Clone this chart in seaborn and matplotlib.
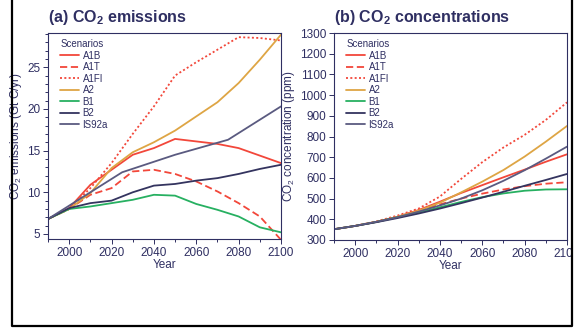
import matplotlib
matplotlib.use("Agg")
import matplotlib.pyplot as plt
from matplotlib.lines import Line2D
from matplotlib.patches import Rectangle
from matplotlib.ticker import MultipleLocator
import numpy as np
import pandas as pd
import seaborn as sns

# ---- data -------------------------------------------------------------
scenarios = ["A1B", "A1T", "A1FI", "A2", "B1", "B2", "IS92a"]
decades = [1990, 2000, 2010, 2020, 2030, 2040, 2050, 2060, 2070, 2080, 2090, 2100]

# CO2 emissions (Gt C/yr)
emis_A1B = [6.8, 8.1, 10.9, 12.7, 14.5, 15.3, 16.4, 16.1, 15.8, 15.3, 14.4, 13.5]
emis_A1T = [6.8, 8.0, 9.7, 10.5, 12.5, 12.7, 12.2, 11.3, 10.1, 8.7, 7.1, 4.3]
emis_A1FI = [6.8, 8.0, 10.5, 13.5, 17.0, 20.3, 24.0, 25.6, 27.1, 28.6, 28.5, 28.2]
emis_A2 = [6.8, 8.0, 9.9, 12.9, 14.8, 16.0, 17.4, 19.1, 20.8, 23.1, 25.9, 28.9]
emis_B1 = [6.8, 8.0, 8.3, 8.7, 9.1, 9.7, 9.6, 8.6, 7.9, 7.1, 5.8, 5.2]
emis_B2 = [6.8, 8.1, 8.7, 9.0, 10.0, 10.8, 11.0, 11.4, 11.7, 12.2, 12.8, 13.3]
is92a_years = [1990, 2025, 2050, 2075, 2100]
emis_IS92a = [6.8, 12.4, 14.5, 16.3, 20.3]

# CO2 concentrations (ppm)
conc_A1B = [352, 368, 388, 412, 445, 485, 527, 565, 603, 640, 678, 714]
conc_A1T = [352, 368, 388, 412, 443, 472, 500, 524, 544, 560, 572, 579]
conc_A1FI = [352, 368, 390, 418, 452, 510, 595, 676, 747, 808, 880, 965]
conc_A2 = [352, 368, 388, 412, 442, 480, 530, 582, 638, 703, 775, 851]
conc_B1 = [352, 368, 387, 410, 432, 458, 484, 507, 525, 538, 544, 545]
conc_B2 = [352, 368, 386, 406, 428, 452, 478, 505, 533, 562, 590, 619]
conc_IS92a = [352, 368, 388, 410, 437, 467, 500, 540, 586, 637, 693, 751]

emis_table = {
    "A1B": (decades, emis_A1B), "A1T": (decades, emis_A1T),
    "A1FI": (decades, emis_A1FI), "A2": (decades, emis_A2),
    "B1": (decades, emis_B1), "B2": (decades, emis_B2),
    "IS92a": (is92a_years, emis_IS92a),
}
conc_table = {
    "A1B": (decades, conc_A1B), "A1T": (decades, conc_A1T),
    "A1FI": (decades, conc_A1FI), "A2": (decades, conc_A2),
    "B1": (decades, conc_B1), "B2": (decades, conc_B2),
    "IS92a": (decades, conc_IS92a),
}


def long_form(table):
    rows = []
    for name in scenarios:
        yrs, vals = table[name]
        rows += [{"Year": y, "value": v, "Scenario": name} for y, v in zip(yrs, vals)]
    return pd.DataFrame(rows)


# ---- style ------------------------------------------------------------
sns.set_style("ticks")
plt.rcParams["font.family"] = ["Liberation Sans", "DejaVu Sans"]
plt.rcParams["mathtext.fontset"] = "custom"
plt.rcParams["mathtext.rm"] = "Liberation Sans"
plt.rcParams["mathtext.it"] = "Liberation Sans"
plt.rcParams["mathtext.bf"] = "Liberation Sans:bold"

navy = "#2f2f62"
palette = {
    "A1B": "#f2473a", "A1T": "#f2473a", "A1FI": "#f2473a",
    "A2": "#dea544", "B1": "#27b061", "B2": "#34345f", "IS92a": "#5a5a80",
}
dashes = {
    "A1B": "", "A1T": (4, 2), "A1FI": (1.1, 1.3), "A2": "",
    "B1": "", "B2": "", "IS92a": "",
}

fig = plt.figure(figsize=(5.83, 3.28), dpi=100)
fig.patch.set_facecolor("white")
ax1 = fig.add_axes([48 / 583, 1 - 239 / 328, 233 / 583, 206 / 328])
ax2 = fig.add_axes([334 / 583, 1 - 240 / 328, 233 / 583, 207 / 328])


def draw_panel(ax, table, ylim, ymajor, yminor, ylabel, title):
    sns.lineplot(data=long_form(table), x="Year", y="value", hue="Scenario",
                 style="Scenario", hue_order=scenarios, style_order=scenarios,
                 palette=palette, dashes=dashes, linewidth=1.3,
                 errorbar=None, ax=ax)
    ax.set_xlim(1990, 2100)
    ax.set_ylim(*ylim)
    ax.xaxis.set_major_locator(MultipleLocator(20))
    ax.xaxis.set_minor_locator(MultipleLocator(10))
    ax.yaxis.set_major_locator(MultipleLocator(ymajor))
    if yminor:
        ax.yaxis.set_minor_locator(MultipleLocator(yminor))
    for s in ax.spines.values():
        s.set_color(navy)
        s.set_linewidth(0.8)
    ax.tick_params(which="both", direction="out", colors=navy, labelsize=8.5,
                   width=0.7, pad=2)
    ax.tick_params(which="major", length=3.5)
    ax.tick_params(which="minor", length=2)
    ax.set_xlabel("Year", fontsize=8.5, color=navy, labelpad=0)
    ax.set_ylabel(ylabel, fontsize=8.5, color=navy, labelpad=2)
    ax.set_title(title, loc="left", fontsize=11.5, fontweight="bold", color=navy, pad=8)
    handles, labels = ax.get_legend_handles_labels()
    leg = ax.legend(handles, labels, title="Scenarios", loc="upper left",
                    bbox_to_anchor=(0.025, 1.0), frameon=False, fontsize=7,
                    title_fontsize=7, handlelength=1.9, handletextpad=0.4,
                    labelspacing=0.15, borderaxespad=0.25, alignment="left")
    for t in leg.get_texts():
        t.set_color(navy)
    leg.get_title().set_color(navy)


draw_panel(ax1, emis_table, (4.4, 29.1), 5, 1,
           r"CO$_2$ emissions (Gt C/yr)", r"(a) CO$_\mathbf{2}$ emissions")
draw_panel(ax2, conc_table, (300, 1300), 100, None,
           r"CO$_2$ concentration (ppm)", r"(b) CO$_\mathbf{2}$ concentrations")

# outer frame of the figure
x0, x1 = 12 / 583, 571.5 / 583
y0 = 1 - 326 / 328
fig.add_artist(Rectangle((x1, 0), 1 - x1, 1, transform=fig.transFigure,
                         facecolor="white", edgecolor="none", zorder=9))
fig.add_artist(Rectangle((0, 0), 1, y0, transform=fig.transFigure,
                         facecolor="white", edgecolor="none", zorder=9))
fig.add_artist(Line2D([x0, x0, x1, x1], [1, y0, y0, 1], transform=fig.transFigure,
                      color="black", linewidth=1.6, zorder=10))

fig.savefig("out.png", dpi=100)
